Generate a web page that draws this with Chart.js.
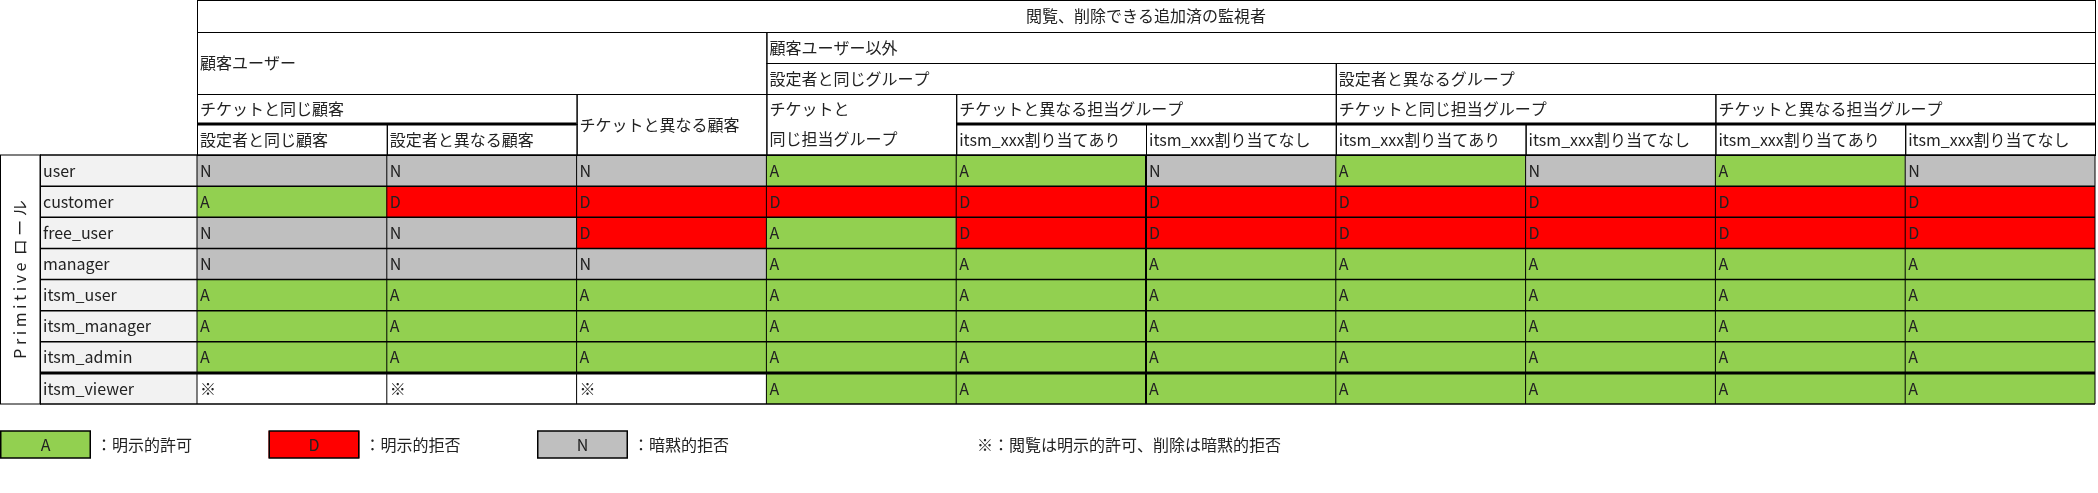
<!DOCTYPE html>
<html><head><meta charset="utf-8">
<script src="https://cdn.jsdelivr.net/npm/chart.js@4/dist/chart.umd.min.js"></script>
<style>html,body{margin:0;padding:0;background:#fff}canvas{display:block}</style>
</head><body>
<canvas id="c" width="2098" height="493"></canvas>
<script>
const roles = ["user","customer","free_user","manager","itsm_user","itsm_manager","itsm_admin","itsm_viewer"];
const columns = ["設定者と同じ顧客","設定者と異なる顧客","チケットと異なる顧客","チケットと同じ担当グループ",
  "itsm_xxx割り当てあり","itsm_xxx割り当てなし","itsm_xxx割り当てあり","itsm_xxx割り当てなし","itsm_xxx割り当てあり","itsm_xxx割り当てなし"];
const rowUser        = ["N","N","N","A","A","N","A","N","A","N"];
const rowCustomer    = ["A","D","D","D","D","D","D","D","D","D"];
const rowFreeUser    = ["N","N","D","A","D","D","D","D","D","D"];
const rowManager     = ["N","N","N","A","A","A","A","A","A","A"];
const rowItsmUser    = ["A","A","A","A","A","A","A","A","A","A"];
const rowItsmManager = ["A","A","A","A","A","A","A","A","A","A"];
const rowItsmAdmin   = ["A","A","A","A","A","A","A","A","A","A"];
const rowItsmViewer  = ["※","※","※","A","A","A","A","A","A","A"];
const grid = [rowUser,rowCustomer,rowFreeUser,rowManager,rowItsmUser,rowItsmManager,rowItsmAdmin,rowItsmViewer];
const legendItems = [["A","：明示的許可"],["D","：明示的拒否"],["N","：暗黙的拒否"]];
const noteText = "※：閲覧は明示的許可、削除は暗黙的拒否";

const COLORS = {A:"#92D050", D:"#FF0000", N:"#BFBFBF", "※":"#FFFFFF"};
const FONT = '16px "Noto Sans CJK JP", "Noto Sans", sans-serif';

const datasets = grid.map((row, r) => ({
  label: roles[r],
  data: row.map(() => [r, r + 1]),
  backgroundColor: row.map(v => COLORS[v]),
  borderWidth: 0,
  barPercentage: 1.0,
  categoryPercentage: 1.0,
  grouped: false
}));

const tablePlugin = {
  id: "table",
  afterDatasetsDraw(chart) {
    const ctx = chart.ctx, a = chart.chartArea;
    const xs = chart.scales.x, ys = chart.scales.y;
    const cw = (a.right - a.left) / columns.length;
    const colX = i => xs.getPixelForValue(0) - cw / 2 + i * cw;
    const rowY = r => ys.getPixelForValue(r);
    ctx.save();
    ctx.font = FONT;
    ctx.textBaseline = "middle";
    ctx.fillStyle = "#222";
    // cell text
    grid.forEach((row, r) => row.forEach((v, c) => {
      ctx.fillStyle = "#222";
      ctx.fillText(v, colX(c) + 3, (rowY(r) + rowY(r + 1)) / 2);
    }));
    // left columns
    const L0 = 0, L1 = 40;
    ctx.fillStyle = "#F2F2F2";
    ctx.fillRect(L1, rowY(0), a.left - L1, rowY(8) - rowY(0));
    ctx.fillStyle = "#222";
    roles.forEach((n, r) => ctx.fillText(n, L1 + 3, (rowY(r) + rowY(r + 1)) / 2));
    ctx.save();
    ctx.translate(20, (rowY(0) + rowY(8)) / 2);
    ctx.rotate(-Math.PI / 2);
    ctx.textAlign = "center";
    ctx.fillText("P r i m i t i v e  ロ ー ル", 0, 0);
    ctx.restore();
    const line = (x1, y1, x2, y2, w) => {
      ctx.lineWidth = w || 1; ctx.strokeStyle = "#000";
      ctx.beginPath(); ctx.moveTo(x1, y1); ctx.lineTo(x2, y2); ctx.stroke();
    };
    // body grid
    for (let r = 0; r <= 8; r++) line(L1, rowY(r), a.right, rowY(r), r === 7 ? 3 : (r === 0 || r === 8 ? 1.5 : 1.5));
    for (let c = 0; c <= 10; c++) line(colX(c), rowY(0), colX(c), rowY(8), c === 5 ? 2 : 1);
    line(L1, rowY(0), L1, rowY(8), 1);
    ctx.strokeRect(L0 + 0.5, rowY(0), L1, rowY(8) - rowY(0));
    // header
    const H = [0, 32, 63, 94, 124, a.top];
    const cell = (c1, c2, y1, y2, text, center, lines) => {
      ctx.lineWidth = 1; ctx.strokeStyle = "#000";
      ctx.strokeRect(colX(c1) + 0.5, y1 + 0.5, colX(c2) - colX(c1), y2 - y1);
      ctx.fillStyle = "#222";
      ctx.textAlign = center ? "center" : "left";
      const tx = center ? (colX(c1) + colX(c2)) / 2 : colX(c1) + 3;
      const ls = lines || [text];
      const mid = (y1 + y2) / 2;
      ls.forEach((t, i) => ctx.fillText(t, tx, ls.length > 1 ? y1 + (H[4] - H[3]) * (i + 0.5) : mid));
      ctx.textAlign = "left";
    };
    cell(0, 10, H[0], H[1], "閲覧、削除できる追加済の監視者", true);
    cell(0, 3, H[1], H[3], "顧客ユーザー");
    cell(3, 10, H[1], H[2], "顧客ユーザー以外");
    cell(3, 6, H[2], H[3], "設定者と同じグループ");
    cell(6, 10, H[2], H[3], "設定者と異なるグループ");
    cell(0, 2, H[3], H[4], "チケットと同じ顧客");
    cell(2, 3, H[3], H[5], "チケットと異なる顧客");
    cell(3, 4, H[3], H[5], "", false, ["チケットと", "同じ担当グループ"]);
    cell(4, 6, H[3], H[4], "チケットと異なる担当グループ");
    cell(6, 8, H[3], H[4], "チケットと同じ担当グループ");
    cell(8, 10, H[3], H[4], "チケットと異なる担当グループ");
    [0, 1, 4, 5, 6, 7, 8, 9].forEach(c => cell(c, c + 1, H[4], H[5], columns[c]));
    line(colX(0), H[4], colX(2), H[4], 3);
    line(colX(4), H[4], colX(10), H[4], 3);
    // legend
    const ly = 431, lh = 27, lw = 91;
    legendItems.forEach(([k, t], i) => {
      const x = i * 268.5;
      ctx.fillStyle = COLORS[k]; ctx.fillRect(x, ly, lw, lh);
      ctx.lineWidth = 1.5; ctx.strokeStyle = "#000"; ctx.strokeRect(x + 0.75, ly, lw - 1.5, lh);
      ctx.fillStyle = "#222"; ctx.textAlign = "center";
      ctx.fillText(k, x + lw / 2, ly + lh / 2);
      ctx.textAlign = "left";
      ctx.fillText(t, x + lw + 5, ly + lh / 2);
    });
    ctx.fillText(noteText, 977, ly + lh / 2);
    ctx.restore();
  }
};

new Chart(document.getElementById("c"), {
  type: "bar",
  data: { labels: columns.map((c, i) => i + ":" + c), datasets },
  options: {
    responsive: false, animation: false, devicePixelRatio: 1,
    layout: { padding: { left: 197, right: 3, top: 155, bottom: 89 } },
    plugins: { legend: { display: false }, tooltip: { enabled: false } },
    scales: {
      x: { display: false, offset: true, grid: { display: false } },
      y: { display: false, min: 0, max: 8, reverse: true, grid: { display: false } }
    }
  },
  plugins: [tablePlugin]
});
</script>
</body></html>
